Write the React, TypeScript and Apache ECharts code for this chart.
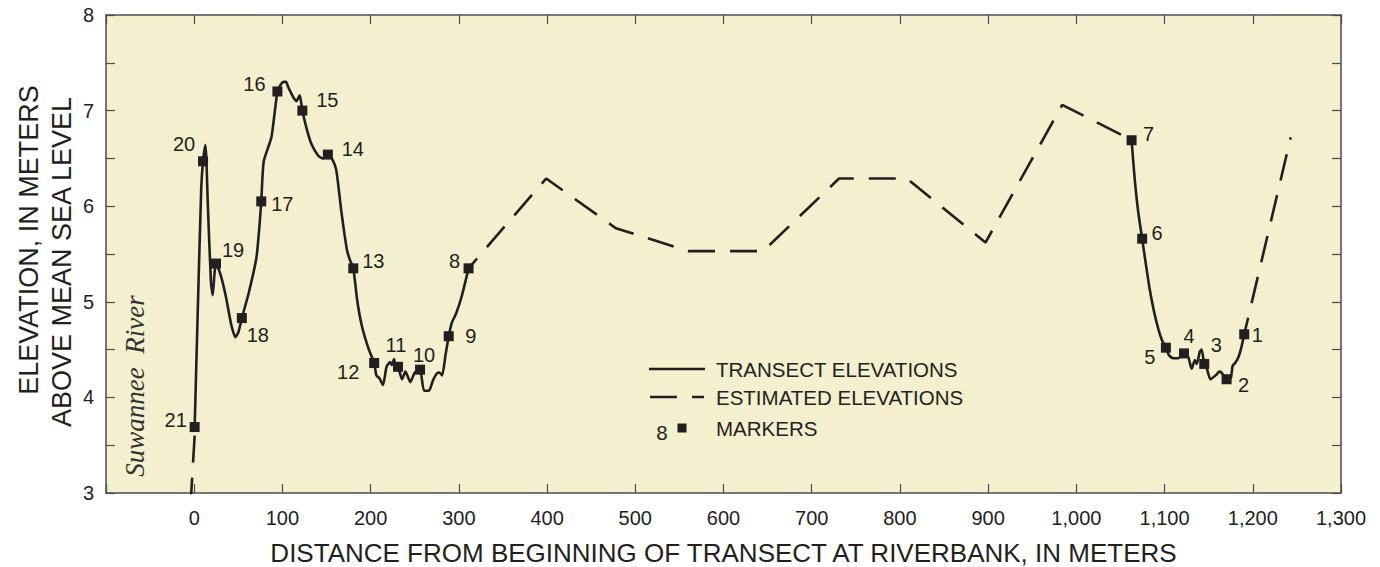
import React, { useEffect, useRef } from "react";
import * as echarts from "echarts";

// ---------- data ----------
const transectWest: [number, number][] = [
  [0.5, 3.69], [4, 4.9], [8, 6.2], [10, 6.47], [12.7, 6.64], [15.5, 6.0], [19, 5.2], [21, 5.07],
  [23, 5.3], [24.7, 5.4], [30, 5.28], [36, 5.05], [42, 4.76], [46.7, 4.63], [50, 4.68],
  [54, 4.83], [62, 5.1], [70.5, 5.46], [74, 5.8], [76, 6.05], [78.8, 6.47], [87.5, 6.72],
  [94.3, 7.2], [98, 7.27], [101.5, 7.3], [104, 7.3], [106.4, 7.25], [110, 7.18], [113, 7.13],
  [116, 7.1], [119.6, 7.16], [122.6, 7.0], [127.2, 6.82], [132.9, 6.65], [140.4, 6.53],
  [145.4, 6.5], [151.5, 6.54], [156, 6.5], [161, 6.38], [167, 5.93], [173, 5.55], [176, 5.45],
  [180.3, 5.35], [185, 5.0], [190, 4.75], [197.6, 4.51], [204, 4.36], [206.5, 4.23], [210, 4.2],
  [214, 4.13], [218, 4.32], [222, 4.37], [224, 4.34], [226.5, 4.4], [228, 4.33], [231, 4.32],
  [235.6, 4.19], [239.4, 4.27], [242, 4.22], [245, 4.16], [250, 4.26], [256, 4.29], [260.5, 4.07],
  [266, 4.07], [270.7, 4.18], [275, 4.25], [278, 4.26], [281, 4.23], [285, 4.45], [288.5, 4.64],
  [292, 4.78], [297, 4.88], [303, 5.05], [311, 5.35],
];

const transectEast: [number, number][] = [
  [1062.6, 6.69], [1066, 6.3], [1070, 5.95], [1074.6, 5.66], [1079, 5.38], [1083, 5.14],
  [1088, 4.9], [1092.8, 4.72], [1097, 4.6], [1101.5, 4.52], [1105, 4.44], [1109.8, 4.41],
  [1115.5, 4.41], [1122, 4.46], [1127, 4.42], [1130.6, 4.3], [1134.4, 4.39], [1136.5, 4.35],
  [1140, 4.48], [1142, 4.5], [1145, 4.35], [1148, 4.3], [1152, 4.19], [1159, 4.24], [1162, 4.27],
  [1164.6, 4.26], [1170.3, 4.19], [1175, 4.2], [1177.1, 4.33], [1180, 4.36], [1183.7, 4.42],
  [1187, 4.52], [1190.3, 4.66],
];

const estimatedRiver: [number, number][] = [[0.5, 3.6], [-4, 2.9]];
const estimatedMiddle: [number, number][] = [
  [311, 5.35], [399, 6.29], [478, 5.77], [560, 5.53], [645, 5.53], [731, 6.29], [808, 6.29],
  [897, 5.62], [984, 7.06], [1063, 6.69],
];
const estimatedEast: [number, number][] = [[1190.3, 4.66], [1243, 6.72]];

const markerIds = [1, 2, 3, 4, 5, 6, 7, 8, 9, 10, 11, 12, 13, 14, 15, 16, 17, 18, 19, 20, 21];
const markerDistances = [
  1190.3, 1170.3, 1145, 1122, 1101.5, 1074.6, 1062.6, 311, 288.5, 256, 231, 204, 180.3, 151.5,
  122.6, 94.3, 76, 54, 24.7, 10, 0.5,
];
const markerElevations = [
  4.66, 4.19, 4.35, 4.46, 4.52, 5.66, 6.69, 5.35, 4.64, 4.29, 4.32, 4.36, 5.35, 6.54, 7.0, 7.2,
  6.05, 4.83, 5.4, 6.47, 3.69,
];

const xTickMin = -100;
const xTickMax = 1300;
const xTickStep = 100;
const yTickMin = 3;
const yTickMax = 8;
const yTickStep = 1;

const xTitle = "DISTANCE FROM BEGINNING OF TRANSECT AT RIVERBANK, IN METERS";
const yTitleLine1 = "ELEVATION, IN METERS";
const yTitleLine2 = "ABOVE MEAN SEA LEVEL";

// ---------- layout (label placement, px offsets from marker centre) ----------
const markerLabelOffsets: [number, number][] = [
  [13, 1], [17, 6], [12, -19], [5, -17], [-16, 9], [15, -6], [17, -6], [-14, -7], [22, 0],
  [4, -15], [-2, -22], [-26, 9], [20, -7], [25, -6], [25, -11], [-23, -7], [21, 3], [16, 17],
  [17, -14], [-19, -17], [-19, -7],
];

const INK = "#231f20";
const FRAME = "#4d4d4d";
const FONT = "'Liberation Sans', Arial, Helvetica, sans-serif";

function fmtDistance(v: number): string {
  if (v < 0) return "";
  if (v >= 1000) return `${Math.floor(v / 1000)},${String(v % 1000).padStart(3, "0")}`;
  return String(v);
}

export default function App() {
  const ref = useRef<HTMLDivElement>(null);

  useEffect(() => {
    if (!ref.current) return;
    const chart = echarts.init(ref.current, undefined, { renderer: "svg" });

    const solidStyle = { color: INK, width: 2.6 };
    const dashStyle = { color: INK, width: 2.6, type: [27, 15] as number[], cap: "butt" as const };
    const tickStyle = { color: FRAME, width: 1.2 };

    const axisCommon = {
      axisLine: { show: true, onZero: false, lineStyle: { color: FRAME, width: 1.5 } },
      splitLine: { show: false },
    };

    const option: any = {
      animation: false,
      backgroundColor: "#ffffff",
      grid: {
        left: 106,
        right: 39,
        top: 15,
        bottom: 74,
        containLabel: false,
        outerBoundsMode: "none",
        show: true,
        backgroundColor: "#F4EFCE",
        borderWidth: 0,
      },
      xAxis: [
        {
          ...axisCommon,
          type: "value",
          position: "bottom",
          min: xTickMin,
          max: xTickMax,
          interval: xTickStep,
          name: xTitle,
          nameLocation: "middle",
          nameGap: 60,
          nameTextStyle: { fontSize: 26, color: INK, fontFamily: FONT, verticalAlign: "middle" },
          axisTick: { show: true, inside: true, length: 9, lineStyle: tickStyle },
          axisLabel: {
            show: true,
            margin: 15,
            fontSize: 20,
            color: INK,
            fontFamily: FONT,
            formatter: (v: number) => fmtDistance(v),
          },
        },
        {
          ...axisCommon,
          type: "value",
          position: "top",
          min: xTickMin,
          max: xTickMax,
          interval: xTickStep,
          axisTick: { show: true, inside: true, length: 9, lineStyle: tickStyle },
          axisLabel: { show: false },
        },
      ],
      yAxis: [
        {
          ...axisCommon,
          type: "value",
          position: "left",
          min: yTickMin,
          max: yTickMax,
          interval: yTickStep,
          axisTick: { show: true, inside: true, length: 9, lineStyle: tickStyle },
          minorTick: { show: true, splitNumber: 2, length: 9, lineStyle: tickStyle },
          axisLabel: { show: true, margin: 12, fontSize: 20, color: INK, fontFamily: FONT },
        },
        {
          ...axisCommon,
          type: "value",
          position: "right",
          min: yTickMin,
          max: yTickMax,
          interval: yTickStep,
          axisTick: { show: true, inside: true, length: 9, lineStyle: tickStyle },
          minorTick: { show: true, splitNumber: 2, length: 9, lineStyle: tickStyle },
          axisLabel: { show: false },
        },
      ],
      series: [
        {
          name: "estimated-river",
          type: "line",
          data: estimatedRiver,
          symbol: "none",
          lineStyle: dashStyle,
          clip: true,
          z: 2,
        },
        {
          name: "estimated-middle",
          type: "line",
          data: estimatedMiddle,
          symbol: "none",
          lineStyle: { ...dashStyle, dashOffset: 14 },
          z: 2,
        },
        {
          name: "estimated-east",
          type: "line",
          data: estimatedEast,
          symbol: "none",
          lineStyle: { ...dashStyle, dashOffset: 10 },
          z: 2,
        },
        {
          name: "transect-west",
          type: "line",
          data: transectWest,
          symbol: "none",
          smooth: 0.2,
          lineStyle: solidStyle,
          z: 3,
        },
        {
          name: "transect-east",
          type: "line",
          data: transectEast,
          symbol: "none",
          smooth: 0.2,
          lineStyle: solidStyle,
          z: 3,
        },
        {
          name: "markers",
          type: "scatter",
          symbol: "rect",
          symbolSize: 10,
          itemStyle: { color: INK, opacity: 1 },
          z: 5,
          data: markerIds.map((id, i) => ({
            value: [markerDistances[i], markerElevations[i]],
            label: {
              show: true,
              formatter: String(id),
              position: "inside",
              offset: markerLabelOffsets[i],
              fontSize: 20,
              color: INK,
              fontFamily: FONT,
              align: "center",
              verticalAlign: "middle",
            },
          })),
        },
      ],
      graphic: [
        // y axis title
        {
          type: "text",
          x: 29,
          y: 240,
          rotation: Math.PI / 2,
          style: {
            text: yTitleLine1,
            fontSize: 27,
            fontFamily: FONT,
            fill: INK,
            textAlign: "center",
            textVerticalAlign: "middle",
          },
        },
        {
          type: "text",
          x: 62,
          y: 262,
          rotation: Math.PI / 2,
          style: {
            text: yTitleLine2,
            fontSize: 27,
            fontFamily: FONT,
            fill: INK,
            textAlign: "center",
            textVerticalAlign: "middle",
          },
        },
        // river annotation
        {
          type: "text",
          x: 135,
          y: 386,
          rotation: Math.PI / 2,
          style: {
            text: "Suwannee  River",
            fontSize: 27,
            fontStyle: "italic",
            fontFamily: "'Liberation Serif', 'Times New Roman', serif",
            fill: "#333333",
            textAlign: "center",
            textVerticalAlign: "middle",
          },
        },
        // legend
        {
          type: "line",
          shape: { x1: 649, y1: 369, x2: 705, y2: 369 },
          style: { stroke: INK, lineWidth: 2.6 },
        },
        {
          type: "text",
          x: 716,
          y: 369,
          style: { text: "TRANSECT ELEVATIONS", fontSize: 20.5, fontFamily: FONT, fill: INK, textVerticalAlign: "middle" },
        },
        {
          type: "line",
          shape: { x1: 650, y1: 397, x2: 704, y2: 397 },
          style: { stroke: INK, lineWidth: 2.6, lineDash: [27, 15] },
        },
        {
          type: "text",
          x: 716,
          y: 397,
          style: { text: "ESTIMATED ELEVATIONS", fontSize: 20.5, fontFamily: FONT, fill: INK, textVerticalAlign: "middle" },
        },
        {
          type: "text",
          x: 662,
          y: 432,
          style: { text: "8", fontSize: 20.5, fontFamily: FONT, fill: INK, textAlign: "center", textVerticalAlign: "middle" },
        },
        {
          type: "rect",
          shape: { x: 677.5, y: 423.5, width: 9, height: 9 },
          style: { fill: INK },
        },
        {
          type: "text",
          x: 716,
          y: 428,
          style: { text: "MARKERS", fontSize: 20.5, fontFamily: FONT, fill: INK, textVerticalAlign: "middle" },
        },
      ],
    };

    chart.setOption(option);
    return () => chart.dispose();
  }, []);

  return (
    <div
      ref={ref}
      style={{ position: "fixed", left: 0, top: 0, width: 1380, height: 567, background: "#ffffff" }}
    />
  );
}
